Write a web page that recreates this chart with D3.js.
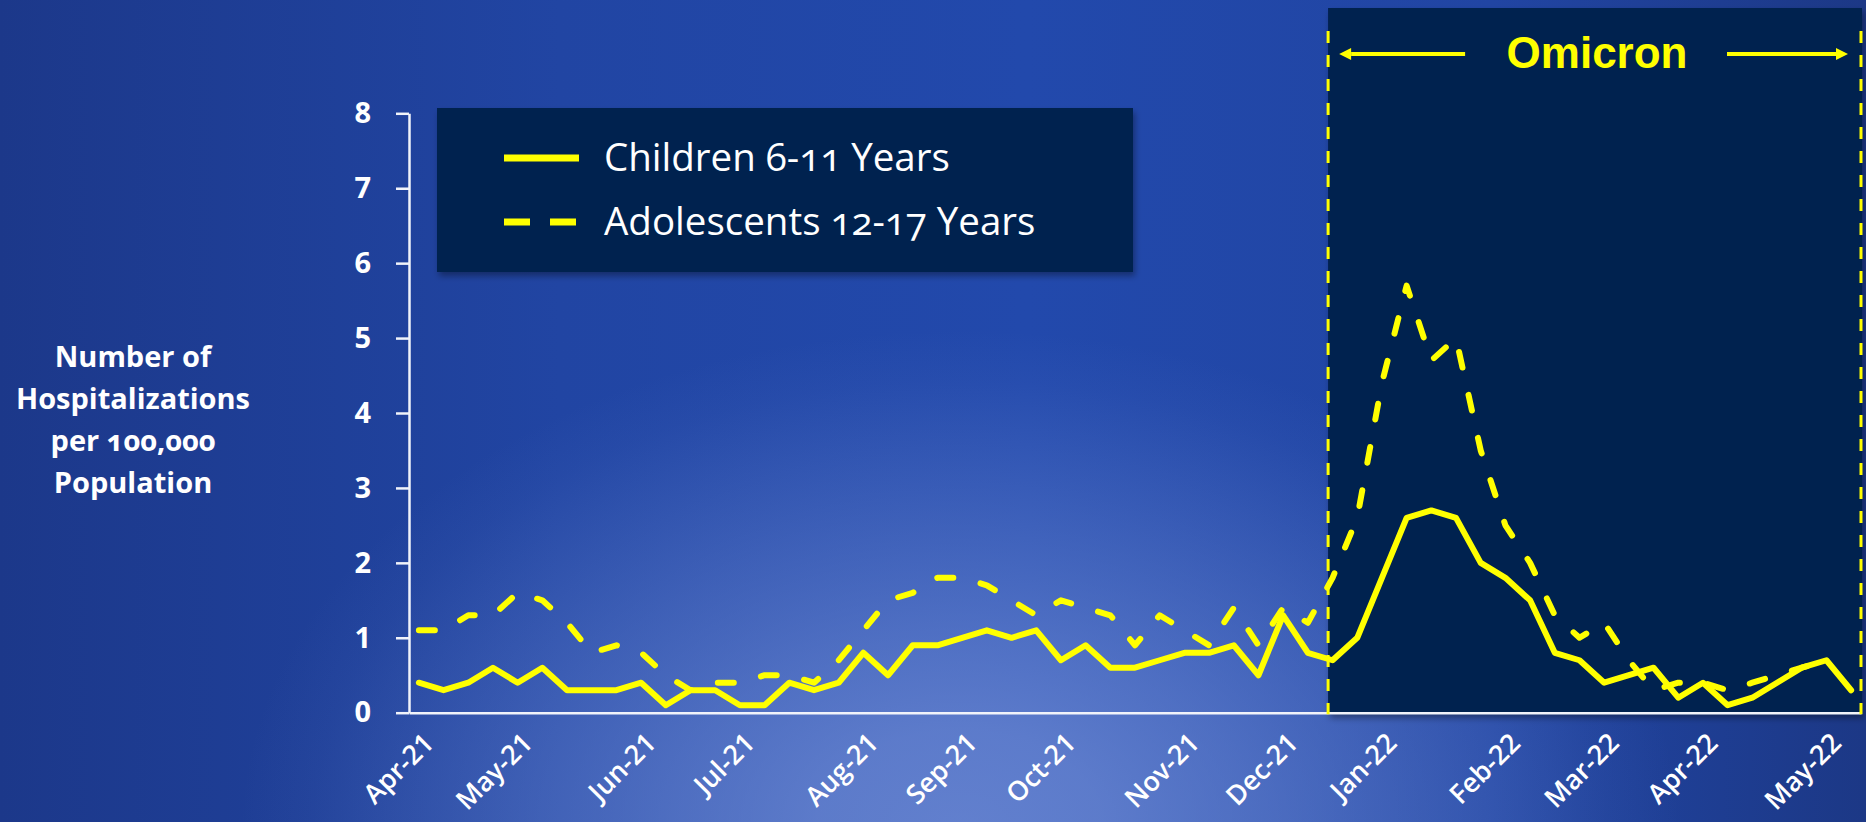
<!DOCTYPE html>
<html>
<head>
<meta charset="utf-8">
<script src="https://cdn.jsdelivr.net/npm/d3@7"></script>
<style>
  html, body { margin: 0; padding: 0; background: #1d3a8a; overflow: hidden; }
  svg { display: block; }
</style>
</head>
<body>
<svg id="chart" width="1866" height="822"></svg>
<script>
// Week-ending dates (MMWR weeks)
const weeks = [
  "2021-04-03","2021-04-10","2021-04-17","2021-04-24",
  "2021-05-01","2021-05-08","2021-05-15","2021-05-22","2021-05-29",
  "2021-06-05","2021-06-12","2021-06-19","2021-06-26",
  "2021-07-03","2021-07-10","2021-07-17","2021-07-24","2021-07-31",
  "2021-08-07","2021-08-14","2021-08-21","2021-08-28",
  "2021-09-04","2021-09-11","2021-09-18","2021-09-25",
  "2021-10-02","2021-10-09","2021-10-16","2021-10-23","2021-10-30",
  "2021-11-06","2021-11-13","2021-11-20","2021-11-27",
  "2021-12-04","2021-12-11","2021-12-18","2021-12-25",
  "2022-01-01","2022-01-08","2022-01-15","2022-01-22","2022-01-29",
  "2022-02-05","2022-02-12","2022-02-19","2022-02-26",
  "2022-03-05","2022-03-12","2022-03-19","2022-03-26",
  "2022-04-02","2022-04-09","2022-04-16","2022-04-23","2022-04-30",
  "2022-05-07","2022-05-14"
];

// Weekly hospitalization rates per 100,000
const children = [
  0.4, 0.3, 0.4, 0.6, 0.4, 0.6, 0.3, 0.3, 0.3, 0.4, 0.1, 0.3, 0.3, 0.1, 0.1, 0.4, 0.3, 0.4, 0.8,
  0.5, 0.9, 0.9, 1.0, 1.1, 1.0, 1.1, 0.7, 0.9, 0.6, 0.6, 0.7, 0.8, 0.8, 0.9, 0.5, 1.3, 0.8, 0.7,
  1.0, 1.8, 2.6, 2.7, 2.6, 2.0, 1.8, 1.5, 0.8, 0.7, 0.4, 0.5, 0.6, 0.2, 0.4, 0.1, 0.2, 0.4, 0.6, 0.7, 0.3
];
const adolescents = [
  1.1, 1.1, 1.3, 1.3, 1.6, 1.5, 1.2, 0.8, 0.9, 0.8, 0.5, 0.3, 0.4, 0.4, 0.5, 0.5, 0.4, 0.7, 1.1,
  1.5, 1.6, 1.8, 1.8, 1.7, 1.5, 1.3, 1.5, 1.4, 1.3, 0.9, 1.3, 1.1, 0.9, 1.4, 0.9, 1.4, 1.2, 1.8,
  2.6, 4.4, 5.7, 4.7, 5.0, 3.5, 2.5, 2.0, 1.3, 1.0, 1.2, 0.7, 0.3, 0.4, 0.4, 0.3, 0.4, 0.5, 0.6, 0.7, null
];

const tickLabels = ["Apr-21","May-21","Jun-21","Jul-21","Aug-21","Sep-21","Oct-21",
                    "Nov-21","Dec-21","Jan-22","Feb-22","Mar-22","Apr-22","May-22"];
const yTicks = [0, 1, 2, 3, 4, 5, 6, 7, 8];
const seriesNames = ["Children 6-11 Years", "Adolescents 12-17 Years"];
const yTitle = ["Number of", "Hospitalizations", "per 100,000", "Population"];
const periodLabel = "Omicron";
const periodStart = "2021-12-18";

// ---- layout ----
const W = 1866, H = 822;
const yellow = "#ffff00";
const axisColor = "#f1f3fa";
const navy = "#06204f";

const svg = d3.select("#chart").attr("viewBox", `0 0 ${W} ${H}`);
const defs = svg.append("defs");

// slide background: blue base with a soft glow low in the middle
const base = defs.append("linearGradient").attr("id", "bgBase")
  .attr("x1", 0).attr("x2", 1).attr("y1", 0).attr("y2", 0);
[[0, "#1c388a"], [0.3, "#2145a3"], [0.55, "#2249ac"], [0.8, "#2145a3"], [1, "#1c3886"]]
  .forEach(([o, c]) => base.append("stop").attr("offset", o).attr("stop-color", c));

const glow = defs.append("radialGradient").attr("id", "bgGlow")
  .attr("gradientUnits", "userSpaceOnUse")
  .attr("cx", 0).attr("cy", 0).attr("r", 1)
  .attr("gradientTransform", "translate(960,830) scale(720,500)");
[[0, 0.74], [0.2, 0.68], [0.4, 0.52], [0.6, 0.34], [0.75, 0.2], [0.9, 0.06], [1, 0]]
  .forEach(([o, a]) => glow.append("stop").attr("offset", o)
    .attr("stop-color", "#7893da").attr("stop-opacity", a));

const shadow = defs.append("filter").attr("id", "shadow")
  .attr("x", "-5%").attr("y", "-5%").attr("width", "115%").attr("height", "125%");
shadow.append("feDropShadow").attr("dx", 2).attr("dy", 4).attr("stdDeviation", 3)
  .attr("flood-color", "#000").attr("flood-opacity", 0.35);

svg.append("rect").attr("width", W).attr("height", H).attr("fill", "url(#bgBase)");
svg.append("rect").attr("width", W).attr("height", H).attr("fill", "url(#bgGlow)");

// ---- scales ----
const x = d3.scalePoint().domain(weeks).range([409, 1861]).padding(0.4);
const y = d3.scaleLinear().domain([0, 8]).range([712.7, 113.3]);
const xLeft = x.range()[0];

// ---- Omicron period panel ----
const pX0 = x(periodStart) - x.step() * 0.18;
const pX1 = x.range()[1] + 1;
const pY0 = 8, pY1 = y(0) + 1.5;
svg.append("rect")
  .attr("x", pX0).attr("y", pY0)
  .attr("width", pX1 - pX0).attr("height", pY1 - pY0)
  .attr("fill", navy).attr("filter", "url(#shadow)");

// ---- axes ----
const gy = svg.append("g").attr("transform", `translate(${xLeft},0)`)
  .call(d3.axisLeft(y).tickValues(yTicks).tickSize(13).tickSizeOuter(0)
    .tickPadding(25).tickFormat(d3.format("d")));
gy.select(".domain").attr("stroke", axisColor).attr("stroke-width", 2.5);
gy.selectAll(".tick line").attr("stroke", axisColor).attr("stroke-width", 2.5);
gy.selectAll(".tick text").attr("fill", "#ffffff")
  .style("font-family", "'Open Sans', sans-serif").style("font-weight", 700).style("font-size", "29px");

// tick at the first week of each labelled month
const parseLabel = d3.timeParse("%b-%y");
const fmtMonth = d3.timeFormat("%Y-%m");
const tickWeeks = tickLabels.map(l => {
  const m = fmtMonth(parseLabel(l));
  return weeks.find(w => w.slice(0, 7) === m);
});

const gx = svg.append("g").attr("transform", `translate(0,${y(0)})`)
  .call(d3.axisBottom(x).tickValues(tickWeeks).tickSize(0).tickSizeOuter(0)
    .tickFormat((d, i) => tickLabels[i]));
gx.select(".domain").attr("stroke", axisColor).attr("stroke-width", 2.5);
gx.selectAll(".tick text")
  .attr("x", 0).attr("y", 0).attr("dy", 0)
  .attr("text-anchor", "end")
  .attr("transform", "translate(16,32) rotate(-45)")
  .attr("fill", "#ffffff")
  .style("font-family", "'Open Sans', sans-serif").style("font-weight", 600).style("font-size", "27px");

// ---- series ----
const line = d3.line()
  .defined(d => d != null)
  .x((d, i) => x(weeks[i]))
  .y(d => y(d));

svg.append("path").datum(children)
  .attr("d", line).attr("fill", "none")
  .attr("stroke", yellow).attr("stroke-width", 6)
  .attr("stroke-linejoin", "round").attr("stroke-linecap", "round");

svg.append("path").datum(adolescents)
  .attr("d", line).attr("fill", "none")
  .attr("stroke", yellow).attr("stroke-width", 6)
  .attr("stroke-dasharray", "16,28")
  .attr("stroke-linejoin", "round").attr("stroke-linecap", "round");

// period borders
[pX0, pX1 - 1].forEach(px => {
  svg.append("line")
    .attr("x1", px).attr("x2", px).attr("y1", 31).attr("y2", pY1)
    .attr("stroke", yellow).attr("stroke-width", 3).attr("stroke-dasharray", "12,12");
});

// period label with arrows
const arrowY = 54;
svg.append("text")
  .attr("x", (pX0 + pX1) / 2 + 2).attr("y", 68)
  .attr("text-anchor", "middle").attr("fill", yellow)
  .style("font-family", "'Liberation Sans', Arial, sans-serif")
  .style("font-weight", 700).style("font-size", "44px")
  .text(periodLabel);

function arrow(xFrom, xTip) {
  const dir = Math.sign(xTip - xFrom);
  const headLen = 12, headHalf = 6;
  svg.append("line")
    .attr("x1", xFrom).attr("x2", xTip - dir * headLen)
    .attr("y1", arrowY).attr("y2", arrowY)
    .attr("stroke", yellow).attr("stroke-width", 4.2);
  svg.append("path")
    .attr("d", `M${xTip},${arrowY} L${xTip - dir * headLen},${arrowY - headHalf} L${xTip - dir * headLen},${arrowY + headHalf} Z`)
    .attr("fill", yellow);
}
arrow(pX0 + 137, pX0 + 11);
arrow(pX1 - 135, pX1 - 14);

// ---- legend ----
const lg = svg.append("g").attr("transform", "translate(437,108)");
lg.append("rect").attr("width", 696).attr("height", 164)
  .attr("fill", navy).attr("filter", "url(#shadow)");
const legendRows = [
  { name: seriesNames[0], dash: null, y: 50 },
  { name: seriesNames[1], dash: "26,20", y: 114 }
];
legendRows.forEach(r => {
  lg.append("line")
    .attr("x1", 67).attr("x2", 142).attr("y1", r.y).attr("y2", r.y)
    .attr("stroke", yellow).attr("stroke-width", 7)
    .attr("stroke-dasharray", r.dash);
  lg.append("text")
    .attr("x", 167).attr("y", r.y + 13)
    .attr("fill", "#ffffff")
    .style("font-family", "'Open Sans', sans-serif").style("font-size", "38.5px")
    .style("font-variant-numeric", "oldstyle-nums")
    .text(r.name);
});

// ---- y-axis title ----
const yt = svg.append("text")
  .attr("text-anchor", "middle").attr("fill", "#ffffff")
  .style("font-family", "'Open Sans', sans-serif").style("font-weight", 700)
  .style("font-size", "29px").style("font-variant-numeric", "oldstyle-nums");
yTitle.forEach((t, i) => {
  yt.append("tspan").attr("x", 133).attr("y", 367 + i * 42).text(t);
});
</script>
</body>
</html>
